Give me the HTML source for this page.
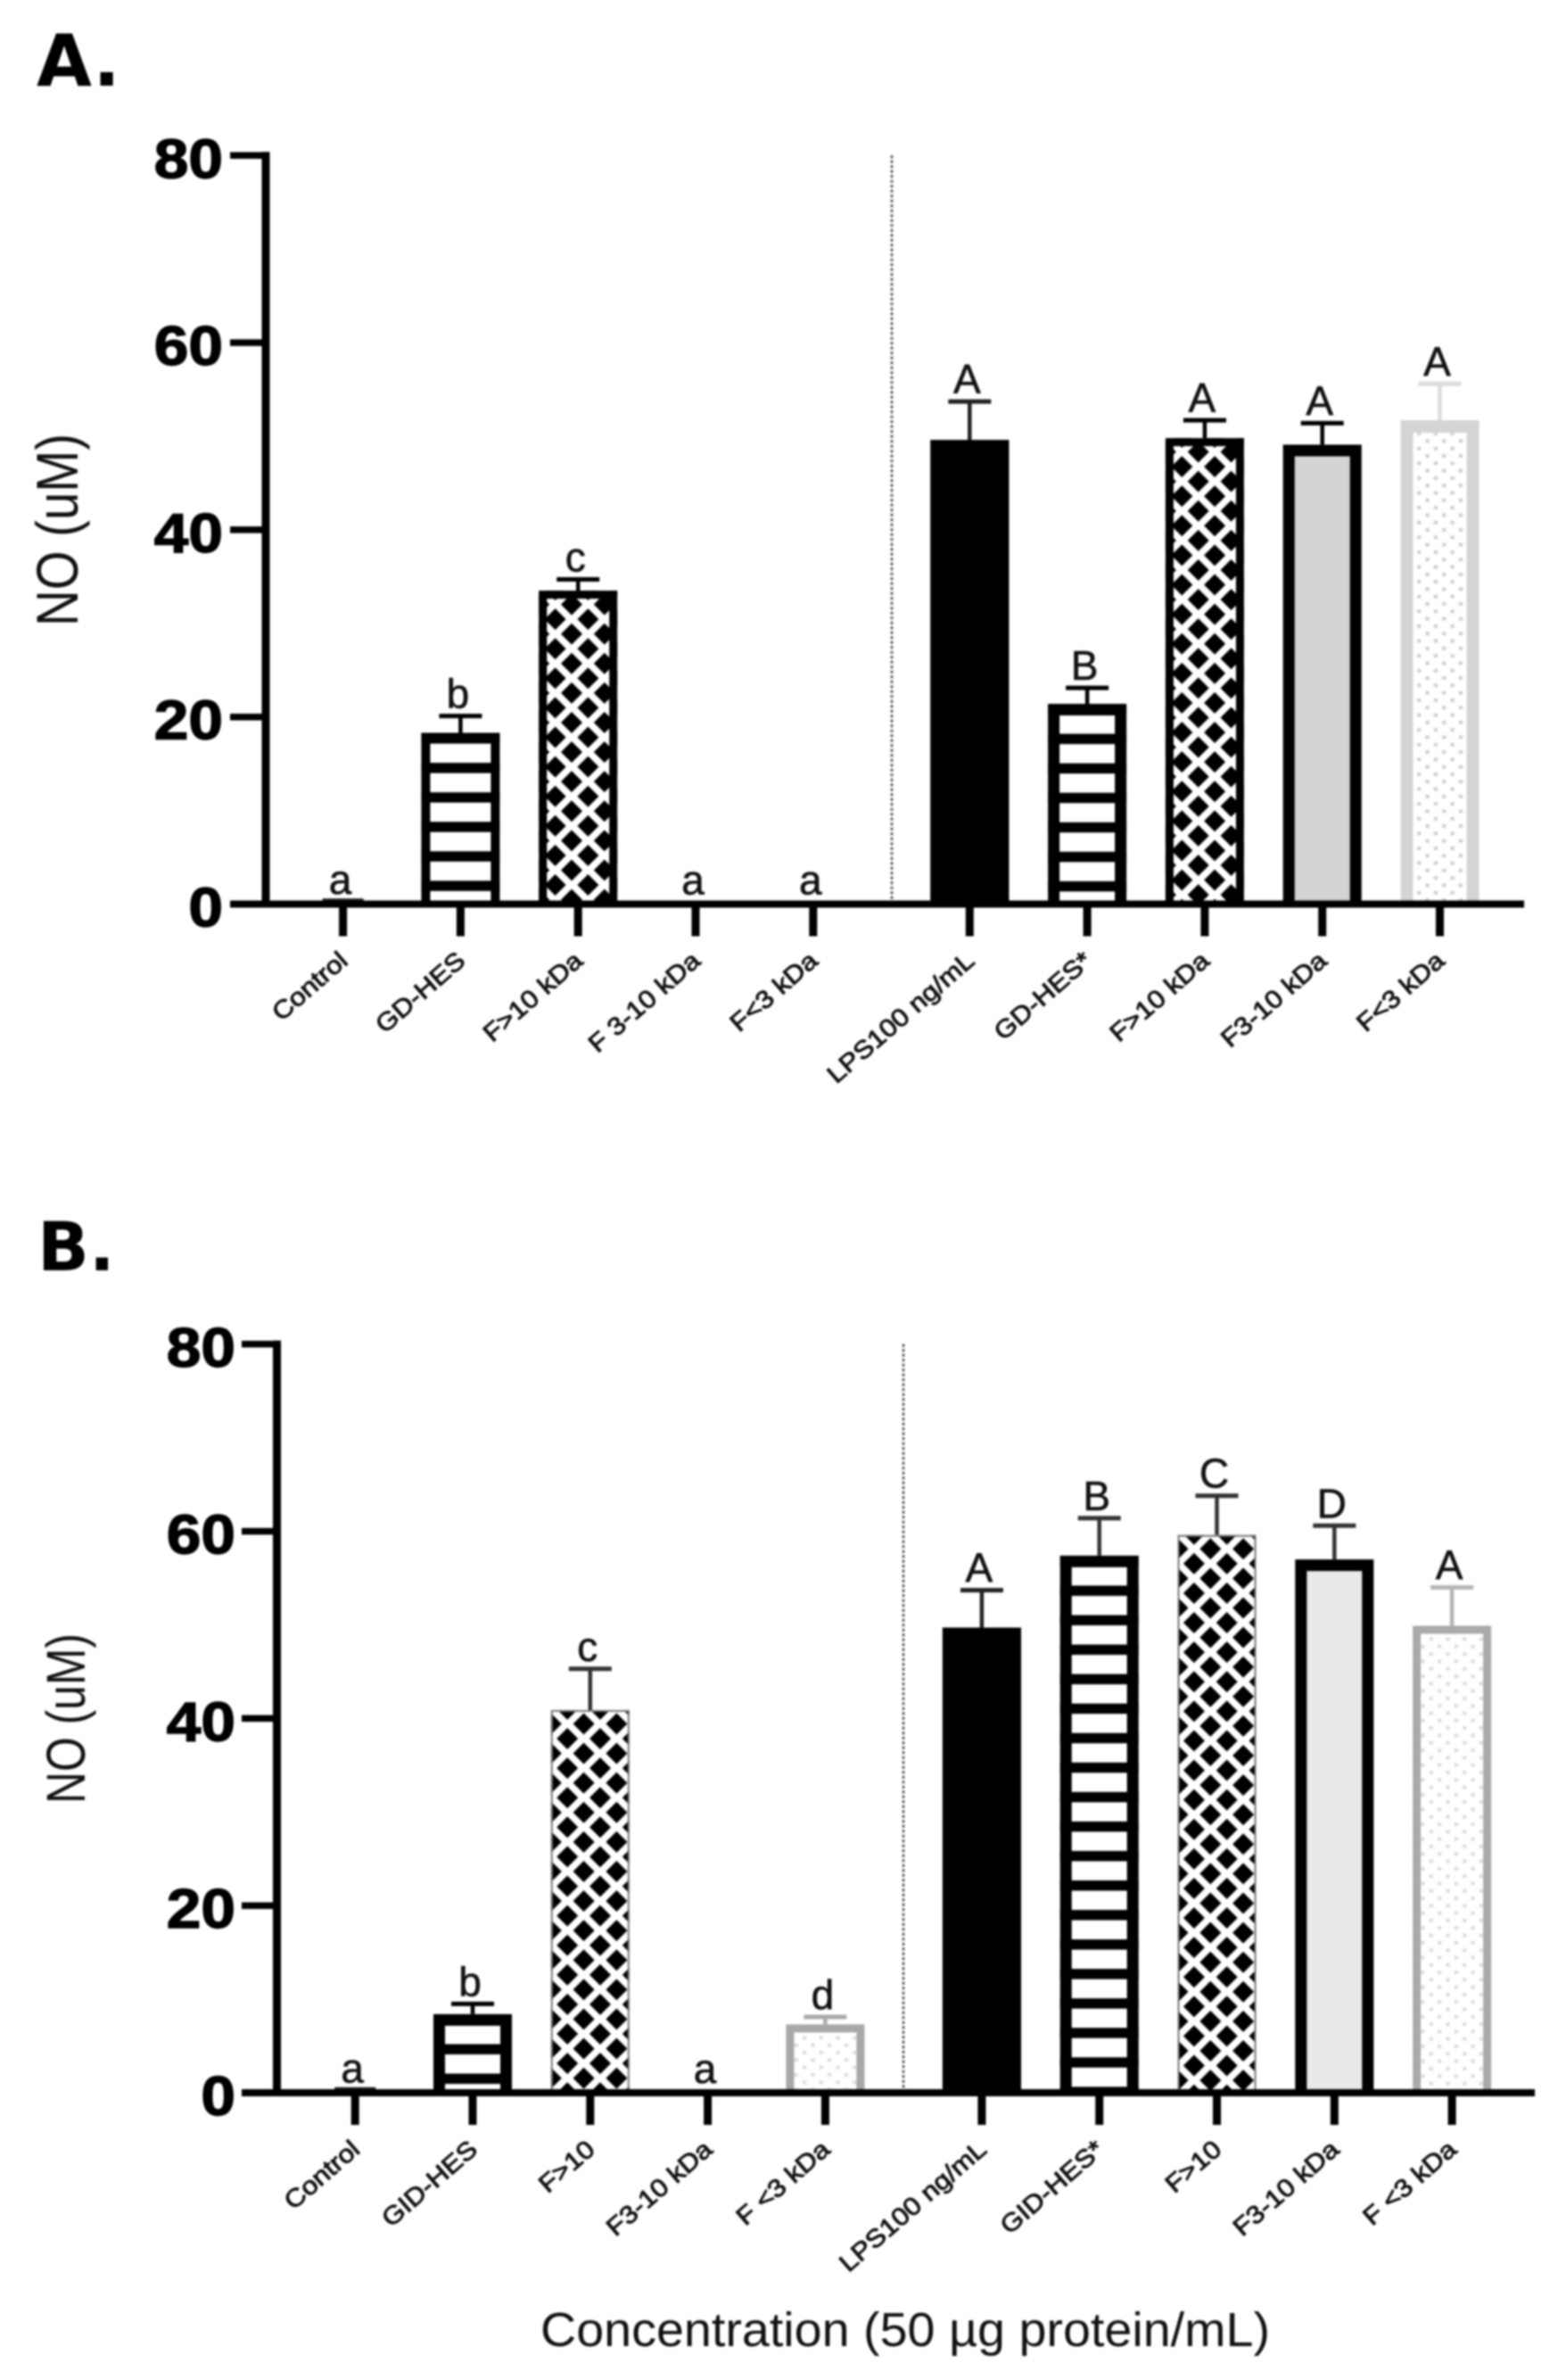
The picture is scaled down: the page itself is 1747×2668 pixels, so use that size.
<!DOCTYPE html>
<html lang="en">
<head>
<meta charset="utf-8">
<title>NO production bar charts</title>
<style>
html,body{margin:0;padding:0;background:#fff;width:1747px;height:2668px;overflow:hidden}
svg{display:block;filter:blur(1px)}
text{font-family:"Liberation Sans",sans-serif;fill:#111}
</style>
</head>
<body>
<svg id="figure" xmlns="http://www.w3.org/2000/svg" width="1747" height="2668" viewBox="0 0 1747 2668">
  <rect x="0" y="0" width="1747" height="2668" fill="#fff"/>
  <defs id="defs"></defs>
  <text x="41" y="96" style='font-family:"DejaVu Sans",sans-serif;font-weight:bold;font-size:80px;fill:#000'>A.</text>
  <text x="42" y="1424" style='font-family:"DejaVu Sans",sans-serif;font-weight:bold;font-size:76px;fill:#000'>B.</text>
  <text transform="translate(87,702) rotate(-90) scale(1,1.22)" textLength="216" lengthAdjust="spacingAndGlyphs" font-size="54">NO (uM)</text>
  <text transform="translate(95,2022) rotate(-90) scale(1,1.3)" textLength="191" lengthAdjust="spacingAndGlyphs" font-size="47">NO (uM)</text>
  <text x="606" y="2630" textLength="818" lengthAdjust="spacingAndGlyphs" font-size="54">Concentration (50 µg protein/mL)</text>
</svg>
<script>
const yTickValues = [0, 20, 40, 60, 80];

const panelACategories = ['Control', 'GD-HES', 'F>10 kDa', 'F 3-10 kDa', 'F<3 kDa', 'LPS100 ng/mL', 'GD-HES*', 'F>10 kDa', 'F3-10 kDa', 'F<3 kDa'];
const panelAMeans = [0.6, 18.3, 33.5, 0, 0, 49.6, 21.4, 49.8, 49.1, 51.7];
const panelAErrors = [0, 1.8, 1.2, 0, 0, 4.1, 1.7, 1.9, 2.3, 3.9];
const panelALetters = ['a', 'b', 'c', 'a', 'a', 'A', 'B', 'A', 'A', 'A'];

const panelBCategories = ['Control', 'GID-HES', 'F>10', 'F3-10 kDa', 'F <3 kDa', 'LPS100 ng/mL', 'GID-HES*', 'F>10', 'F3-10 kDa', 'F <3 kDa'];
const panelBMeans = [0.6, 8.4, 40.9, 0, 7.3, 49.7, 57.4, 59.6, 57, 49.9];
const panelBErrors = [0, 1.1, 4.4, 0, 0.8, 4.0, 4.0, 4.2, 3.6, 4.1];
const panelBLetters = ['a', 'b', 'c', 'a', 'd', 'A', 'B', 'C', 'D', 'A'];

const panelAStyle = [
  {kind:'empty'},
  {kind:'stripes', border:'#000', bw:10},
  {kind:'lattice', border:'#000', bw:9},
  {kind:'empty'},
  {kind:'empty'},
  {kind:'solid', border:'#000', bw:2, err:'#222'},
  {kind:'stripes', border:'#000', bw:13},
  {kind:'lattice', border:'#000', bw:9},
  {kind:'flat', border:'#000', bw:13, fill:'#d3d3d3'},
  {kind:'dots', border:'#d4d4d4', bw:14, dot:'#cfcfcf', err:'#dcdcdc'}
];
const panelBStyle = [
  {kind:'empty'},
  {kind:'stripes', border:'#000', bw:13},
  {kind:'lattice', border:'#777', bw:2, err:'#333'},
  {kind:'empty'},
  {kind:'dots', border:'#a8a8a8', bw:9, dot:'#dddddd', err:'#aaaaaa'},
  {kind:'solid', border:'#000', bw:2, err:'#222'},
  {kind:'stripes', border:'#000', bw:13, err:'#333'},
  {kind:'lattice', border:'#777', bw:2, err:'#333'},
  {kind:'flat', border:'#000', bw:13, fill:'#e9e9e9', err:'#333'},
  {kind:'dots', border:'#aaaaaa', bw:9, dot:'#dddddd', err:'#b5b5b5'}
];

const svgNS = 'http://www.w3.org/2000/svg';
const figure = document.getElementById('figure');
const defs = document.getElementById('defs');
const PX_PER_UNIT = 10.49;
const BAR_W = 88;
const STEP = 131.8;
const GROUP_GAP = 43.7;
let patternCount = 0;

function make(tag, attrs, parent) {
  const node = document.createElementNS(svgNS, tag);
  for (const k in attrs) node.setAttribute(k, attrs[k]);
  (parent || figure).appendChild(node);
  return node;
}

function makePattern(kind, dot, x, y) {
  const id = 'pat' + (patternCount++);
  if (kind === 'stripes') {
    const p = make('pattern', {id:id, patternUnits:'userSpaceOnUse', x:x, y:y, width:40, height:33.05}, defs);
    make('rect', {x:0, y:0, width:40, height:11.5, fill:'#000'}, p);
  } else if (kind === 'lattice') {
    const w = 36.8, h = 33.1, r = 12;
    const p = make('pattern', {id:id, patternUnits:'userSpaceOnUse', x:x, y:y, width:w, height:h}, defs);
    [[0,0],[w,0],[0,h],[w,h],[w/2,h/2]].forEach(function (c) {
      make('polygon', {points:(c[0]-r)+','+c[1]+' '+c[0]+','+(c[1]-r)+' '+(c[0]+r)+','+c[1]+' '+c[0]+','+(c[1]+r), fill:'#000'}, p);
    });
  } else {
    const w = 18.7, h = 16.6;
    const p = make('pattern', {id:id, patternUnits:'userSpaceOnUse', x:x, y:y, width:w, height:h}, defs);
    [[0,0],[w,0],[0,h],[w,h],[w/2,h/2]].forEach(function (c) {
      make('rect', {x:c[0]-2.2, y:c[1]-2, width:4.4, height:4, fill:dot}, p);
    });
  }
  return 'url(#' + id + ')';
}

function drawPanel(prefix, cfg, categories, means, errors, letters, styles) {
  const yScale = function (v) { return cfg.base - v * PX_PER_UNIT; };
  const xScale = function (i) { return cfg.x0 + i * STEP + (i >= 5 ? GROUP_GAP : 0); };

  categories.forEach(function (cat, i) {
    const st = styles[i];
    const cx = xScale(i);
    const top = yScale(means[i]);
    const errTop = yScale(means[i] + errors[i]);
    const left = cx - BAR_W / 2;
    const errColor = st.err || st.border || '#222';

    if (errors[i] > 0) {
      const stem = make('line', {x1:cx, x2:cx, y1:errTop, y2:top, stroke:errColor, 'stroke-width':4.5});
      
      
      const cap = make('line', {x1:cx-24, x2:cx+24, y1:errTop, y2:errTop, stroke:errColor, 'stroke-width':5});
      
      
    }

    if (st.kind === 'empty') {
      if (means[i] > 0) {
        const flat = make('rect', {x:cx-23, y:top, width:46, height:cfg.base-top, fill:'#222'});
        
        
      }
    } else {
      let fill = '#fff';
      if (st.kind === 'solid') fill = '#000';
      if (st.kind === 'flat') fill = st.fill;
      if (st.kind === 'stripes') fill = makePattern('stripes', null, left, top + 33.6);
      if (st.kind === 'lattice') fill = makePattern('lattice', null, left + 36.8, top + 15.5);
      if (st.kind === 'dots') fill = makePattern('dots', st.dot, left + 2, top + 15);
      if (st.kind === 'stripes' || st.kind === 'lattice' || st.kind === 'dots') {
        const under = make('rect', {x:left, y:top, width:BAR_W, height:cfg.base-top, fill:'#fff'});
        
        
      }
      const body = make('rect', {x:left, y:top, width:BAR_W, height:cfg.base-top, fill:fill});
      
      
      const b = st.bw;
      const edge = make('path', {
        d:'M' + (left+b/2) + ' ' + cfg.base + 'V' + (top+b/2) + 'H' + (left+BAR_W-b/2) + 'V' + cfg.base,
        fill:'none', stroke:st.border, 'stroke-width':b
      });
      
      
    }

    const gap = errors[i] > 0 ? 9 : (means[i] > 0 ? 5 : 11);
    const letter = make('text', {x:cx-3, y:errTop-gap, 'text-anchor':'middle', 'font-size':46, stroke:'#111', 'stroke-width':0.6});
    letter.textContent = letters[i];
    
    

    const tick = make('line', {x1:cx, x2:cx, y1:cfg.base, y2:cfg.base+36, stroke:'#000', 'stroke-width':9});
    
    

    const label = make('text', {
      transform:'translate(' + (cx+7) + ',' + (cfg.base+66) + ') rotate(-41) scale(1.12,1)',
      'text-anchor':'end', 'font-size':28, stroke:'#111', 'stroke-width':0.9
    });
    label.textContent = cat;
    
    
  });

  const divider = make('line', {x1:cfg.divider, x2:cfg.divider, y1:yScale(80), y2:cfg.base, stroke:'#555', 'stroke-width':2.8, 'stroke-dasharray':'3 2.5'});
  
  

  const xAxis = make('line', {x1:cfg.tickStart, x2:cfg.axisEnd, y1:cfg.base, y2:cfg.base, stroke:'#000', 'stroke-width':8});
  
  

  const yAxis = make('line', {x1:cfg.axisX, x2:cfg.axisX, y1:yScale(80)-4, y2:cfg.base+4, stroke:'#000', 'stroke-width':9});
  
  

  yTickValues.forEach(function (v) {
    const t = make('line', {x1:cfg.tickStart, x2:cfg.axisX, y1:yScale(v), y2:yScale(v), stroke:'#000', 'stroke-width':7.5});
    
    
    const lab = make('text', {
      transform:'translate(' + cfg.labelRight + ',' + (yScale(v)+25) + ') scale(1.12,1)',
      'text-anchor':'end', 'font-size':62, 'font-weight':'bold', stroke:'#000', 'stroke-width':1.4, style:'fill:#000'
    });
    lab.textContent = String(v);
    
    
  });
}

drawPanel('panel-a', {base:1013.5, x0:384.6, axisX:298, tickStart:258, axisEnd:1709, divider:1000, labelRight:250},
  panelACategories, panelAMeans, panelAErrors, panelALetters, panelAStyle);
drawPanel('panel-b', {base:2346, x0:398.2, axisX:310.5, tickStart:271, axisEnd:1721, divider:1013, labelRight:264},
  panelBCategories, panelBMeans, panelBErrors, panelBLetters, panelBStyle);
</script>
</body>
</html>
